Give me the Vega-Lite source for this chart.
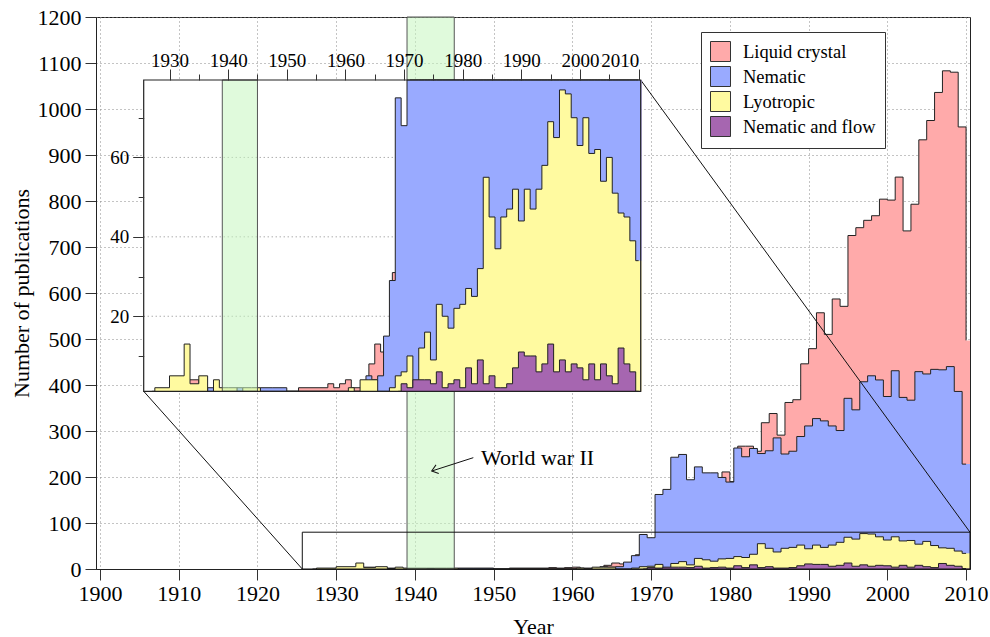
{
  "$schema": "https://vega.github.io/schema/vega-lite/v6.json",
  "width": 874,
  "height": 552,
  "autosize": {"type": "none"},
  "padding": {"left": 96, "top": 17, "right": 20, "bottom": 68},
  "background": "white",
  "view": {"stroke": "#222", "strokeWidth": 1},
  "config": {
    "font": "Liberation Serif",
    "axis": {"labelFont": "Liberation Serif", "titleFont": "Liberation Serif"},
    "legend": {"labelFont": "Liberation Serif"},
    "area": {"opacity": 1}
  },
  "datasets": {
    "liquid": [
      {"year":1933,"n":4},{"year":1935,"n":1},{"year":1937,"n":0},{"year":1952,"n":2},{"year":1957,"n":3},{"year":1958,"n":2},{"year":1959,"n":3},{"year":1960,"n":4},{"year":1961,"n":2},{"year":1963,"n":3},{"year":1964,"n":8},{"year":1965,"n":13},{"year":1966,"n":11},{"year":1967,"n":14},{"year":1968,"n":31},{"year":1969,"n":60},{"year":1970,"n":65},{"year":1971,"n":150},{"year":1972,"n":165},{"year":1973,"n":230},{"year":1974,"n":190},{"year":1975,"n":185},{"year":1976,"n":200},{"year":1977,"n":200},{"year":1978,"n":195},{"year":1979,"n":211},{"year":1980,"n":190},{"year":1981,"n":267},{"year":1982,"n":267},{"year":1983,"n":256},{"year":1984,"n":318},{"year":1985,"n":338},{"year":1986,"n":291},{"year":1987,"n":362},{"year":1988,"n":368},{"year":1989,"n":446},{"year":1990,"n":479},{"year":1991,"n":557},{"year":1992,"n":510},{"year":1993,"n":587},{"year":1994,"n":571},{"year":1995,"n":725},{"year":1996,"n":742},{"year":1997,"n":758},{"year":1998,"n":768},{"year":1999,"n":804},{"year":2000,"n":802},{"year":2001,"n":852},{"year":2002,"n":735},{"year":2003,"n":793},{"year":2004,"n":933},{"year":2005,"n":975},{"year":2006,"n":1036},{"year":2007,"n":1083},{"year":2008,"n":1080},{"year":2009,"n":961},{"year":2010,"n":497}
    ],
    "nematic": [
      {"year":1936,"n":0},{"year":1937,"n":2},{"year":1938,"n":0},{"year":1941,"n":0},{"year":1942,"n":2},{"year":1943,"n":0},{"year":1945,"n":0},{"year":1946,"n":2},{"year":1949,"n":2},{"year":1951,"n":0},{"year":1963,"n":0},{"year":1964,"n":5},{"year":1965,"n":4},{"year":1966,"n":5},{"year":1967,"n":15},{"year":1968,"n":29},{"year":1969,"n":75},{"year":1970,"n":68},{"year":1971,"n":162},{"year":1972,"n":173},{"year":1973,"n":243},{"year":1974,"n":249},{"year":1975,"n":194},{"year":1976,"n":222},{"year":1977,"n":209},{"year":1978,"n":209},{"year":1979,"n":199},{"year":1980,"n":189},{"year":1981,"n":263},{"year":1982,"n":244},{"year":1983,"n":262},{"year":1984,"n":251},{"year":1985,"n":257},{"year":1986,"n":285},{"year":1987,"n":250},{"year":1988,"n":256},{"year":1989,"n":288},{"year":1990,"n":311},{"year":1991,"n":327},{"year":1992,"n":322},{"year":1993,"n":311},{"year":1994,"n":301},{"year":1995,"n":371},{"year":1996,"n":346},{"year":1997,"n":407},{"year":1998,"n":420},{"year":1999,"n":411},{"year":2000,"n":375},{"year":2001,"n":431},{"year":2002,"n":373},{"year":2003,"n":367},{"year":2004,"n":429},{"year":2005,"n":424},{"year":2006,"n":434},{"year":2007,"n":433},{"year":2008,"n":440},{"year":2009,"n":386},{"year":2010,"n":228}
    ],
    "lyotropic": [
      {"year":1927,"n":0},{"year":1928,"n":2},{"year":1932,"n":5},{"year":1933,"n":13},{"year":1934,"n":3},{"year":1936,"n":5},{"year":1937,"n":1},{"year":1938,"n":4},{"year":1939,"n":2},{"year":1941,"n":2},{"year":1942,"n":1},{"year":1943,"n":2},{"year":1945,"n":2},{"year":1946,"n":0},{"year":1960,"n":0},{"year":1961,"n":2},{"year":1962,"n":0},{"year":1963,"n":4},{"year":1965,"n":4},{"year":1966,"n":0},{"year":1967,"n":0},{"year":1968,"n":2},{"year":1969,"n":5},{"year":1970,"n":6},{"year":1971,"n":10},{"year":1972,"n":2},{"year":1973,"n":12},{"year":1974,"n":16},{"year":1975,"n":9},{"year":1976,"n":23},{"year":1977,"n":20},{"year":1978,"n":17},{"year":1979,"n":22},{"year":1980,"n":23},{"year":1981,"n":27},{"year":1982,"n":25},{"year":1983,"n":32},{"year":1984,"n":55},{"year":1985,"n":45},{"year":1986,"n":37},{"year":1987,"n":45},{"year":1988,"n":47},{"year":1989,"n":52},{"year":1990,"n":44},{"year":1991,"n":52},{"year":1992,"n":47},{"year":1993,"n":52},{"year":1994,"n":58},{"year":1995,"n":69},{"year":1996,"n":65},{"year":1997,"n":77},{"year":1998,"n":76},{"year":1999,"n":70},{"year":2000,"n":63},{"year":2001,"n":70},{"year":2002,"n":61},{"year":2003,"n":62},{"year":2004,"n":54},{"year":2005,"n":60},{"year":2006,"n":51},{"year":2007,"n":46},{"year":2008,"n":45},{"year":2009,"n":39},{"year":2010,"n":34}
    ],
    "flow": [
      {"year":1969,"n":0},{"year":1970,"n":3},{"year":1971,"n":2},{"year":1972,"n":4},{"year":1973,"n":4},{"year":1974,"n":4},{"year":1975,"n":3},{"year":1976,"n":6},{"year":1977,"n":2},{"year":1978,"n":3},{"year":1979,"n":4},{"year":1980,"n":2},{"year":1981,"n":7},{"year":1982,"n":3},{"year":1983,"n":9},{"year":1984,"n":3},{"year":1985,"n":5},{"year":1986,"n":2},{"year":1987,"n":2},{"year":1988,"n":3},{"year":1989,"n":7},{"year":1990,"n":11},{"year":1991,"n":10},{"year":1992,"n":10},{"year":1993,"n":6},{"year":1994,"n":8},{"year":1995,"n":13},{"year":1996,"n":6},{"year":1997,"n":9},{"year":1998,"n":6},{"year":1999,"n":8},{"year":2000,"n":7},{"year":2001,"n":4},{"year":2002,"n":8},{"year":2003,"n":4},{"year":2004,"n":8},{"year":2005,"n":5},{"year":2006,"n":3},{"year":2007,"n":12},{"year":2008,"n":8},{"year":2009,"n":6},{"year":2010,"n":1}
    ]
  },
  "resolve": {"scale": {"x": "independent", "y": "independent"}},
  "layer": [
    {
      "layer": [
        {
          "data": {"name": "liquid"},
          "transform": [{"filter": "datum.year === 2010"}],
          "mark": {"type": "bar", "width": 7.874},
          "encoding": {
            "x": {
              "field": "year", "type": "quantitative",
              "scale": {"domain": [1899.5, 2010.5], "nice": false, "zero": false, "padding": 0},
              "axis": {
                "title": "Year",
                "values": [1900,1905,1910,1915,1920,1925,1930,1935,1940,1945,1950,1955,1960,1965,1970,1975,1980,1985,1990,1995,2000,2005,2010],
                "format": "d",
                "labelExpr": "datum.value % 10 === 0 ? datum.label : ''",
                "labelFlush": false, "labelOverlap": false,
                "labelFontSize": 22, "labelColor": "#000", "labelPadding": 3,
                "tickSize": {"condition": {"test": "datum.value % 10 === 0", "value": 11}, "value": 6},
                "tickColor": "#333", "domainColor": "#222",
                "grid": true, "gridColor": "#888", "gridDash": [1, 3],
                "gridOpacity": {"condition": {"test": "datum.value % 10 === 0", "value": 1}, "value": 0},
                "titleFontSize": 22, "titleFontWeight": "normal", "titleColor": "#000", "titlePadding": 12
              }
            },
            "y": {
              "field": "n", "type": "quantitative",
              "scale": {"domain": [0, 1200], "nice": false, "padding": 0},
              "axis": {
                "title": "Number of publications",
                "values": [0,50,100,150,200,250,300,350,400,450,500,550,600,650,700,750,800,850,900,950,1000,1050,1100,1150,1200],
                "labelExpr": "datum.value % 100 === 0 ? datum.label : ''",
                "format": "d",
                "labelOverlap": false, "labelFlush": false,
                "labelFontSize": 22, "labelColor": "#000", "labelPadding": 4,
                "tickSize": {"condition": {"test": "datum.value % 100 === 0", "value": 11}, "value": 6},
                "tickColor": "#333", "domainColor": "#222",
                "grid": true, "gridColor": "#888", "gridDash": [1, 3],
                "gridOpacity": {"condition": {"test": "datum.value % 100 === 0", "value": 1}, "value": 0},
                "titleFontSize": 22, "titleFontWeight": "normal", "titleColor": "#000", "titlePadding": 4
              }
            },
            "y2": {"datum": 0},
            "color": {
              "datum": "Liquid crystal", "type": "nominal",
              "scale": {
                "domain": ["Liquid crystal", "Nematic", "Lyotropic", "Nematic and flow"],
                "range": ["#ffaaaa", "#99aaff", "#fffaa0", "#a666b0"]
              },
              "legend": {
                "title": null, "orient": "none", "legendX": 605, "legendY": 15,
                "symbolType": "square", "symbolSize": 400,
                "labelFont": "Liberation Serif",
                "labelFontSize": 18.5, "labelColor": "#000", "labelOffset": 12,
                "rowPadding": 0, "padding": 9,
                "strokeColor": "#333", "fillColor": "white", "zindex": 1,
                "encode": {
                  "symbols": {"update": {"stroke": {"value": "#333"}, "strokeWidth": {"value": 1}, "opacity": {"value": 1}}},
                  "labels": {"update": {"font": {"value": "Liberation Serif"}}}
                }
              }
            }
          }
        },
        {
          "data": {"name": "liquid"},
          "mark": {"type": "area", "interpolate": "step-after", "color": "#ffaaaa", "opacity": 1, "line": {"color": "#222", "strokeWidth": 1}},
          "encoding": {"x": {"field": "year", "type": "quantitative"}, "y": {"field": "n", "type": "quantitative"}, "y2": {"datum": 0}}
        },
        {
          "data": {"name": "nematic"},
          "transform": [{"filter": "datum.year === 2010"}],
          "mark": {"type": "bar", "width": 7.874},
          "encoding": {"x": {"field": "year", "type": "quantitative"}, "y": {"field": "n", "type": "quantitative"}, "y2": {"datum": 0}, "color": {"datum": "Nematic", "type": "nominal"}}
        },
        {
          "data": {"name": "nematic"},
          "mark": {"type": "area", "interpolate": "step", "color": "#99aaff", "opacity": 1, "line": {"color": "#222", "strokeWidth": 1}},
          "encoding": {"x": {"field": "year", "type": "quantitative"}, "y": {"field": "n", "type": "quantitative"}, "y2": {"datum": 0}}
        },
        {
          "data": {"name": "lyotropic"},
          "transform": [{"filter": "datum.year === 2010"}],
          "mark": {"type": "bar", "width": 7.874},
          "encoding": {"x": {"field": "year", "type": "quantitative"}, "y": {"field": "n", "type": "quantitative"}, "y2": {"datum": 0}, "color": {"datum": "Lyotropic", "type": "nominal"}}
        },
        {
          "data": {"name": "lyotropic"},
          "mark": {"type": "area", "interpolate": "step", "color": "#fffaa0", "opacity": 1, "line": {"color": "#222", "strokeWidth": 1}},
          "encoding": {"x": {"field": "year", "type": "quantitative"}, "y": {"field": "n", "type": "quantitative"}, "y2": {"datum": 0}}
        },
        {
          "data": {"name": "flow"},
          "transform": [{"filter": "datum.year === 2010"}],
          "mark": {"type": "bar", "width": 7.874},
          "encoding": {"x": {"field": "year", "type": "quantitative"}, "y": {"field": "n", "type": "quantitative"}, "y2": {"datum": 0}, "color": {"datum": "Nematic and flow", "type": "nominal"}}
        },
        {
          "data": {"name": "flow"},
          "mark": {"type": "area", "interpolate": "step", "color": "#a666b0", "opacity": 1, "line": {"color": "#222", "strokeWidth": 1}},
          "encoding": {"x": {"field": "year", "type": "quantitative"}, "y": {"field": "n", "type": "quantitative"}, "y2": {"datum": 0}}
        },
        {
          "data": {"values": [{}]},
          "mark": {"type": "rect", "fill": "#c7f6bf", "fillOpacity": 0.55, "stroke": "#555", "strokeWidth": 1},
          "encoding": {"x": {"datum": 1939}, "x2": {"datum": 1945}, "y": {"datum": 0}, "y2": {"datum": 1200}}
        },
        {
          "data": {"values": [{}]},
          "mark": {"type": "rect", "fillOpacity": 0, "stroke": "#111", "strokeWidth": 1},
          "encoding": {"x": {"datum": 1925.7}, "x2": {"datum": 2010.5}, "y": {"datum": 0}, "y2": {"datum": 80}}
        },
        {
          "data": {"values": [{}]},
          "mark": {"type": "rule", "color": "#111", "strokeWidth": 1},
          "encoding": {"x": {"datum": 1905.56}, "y": {"datum": 386.3}, "x2": {"datum": 1925.7}, "y2": {"datum": 0}}
        },
        {
          "data": {"values": [{}]},
          "mark": {"type": "rule", "color": "#111", "strokeWidth": 1},
          "encoding": {"x": {"datum": 1968.68}, "y": {"datum": 1063}, "x2": {"datum": 2010.5}, "y2": {"datum": 80}}
        },
        {
          "data": {"values": [{}]},
          "mark": {"type": "rule", "color": "#111", "strokeWidth": 1},
          "encoding": {"x": {"datum": 1947.42}, "y": {"datum": 242}, "x2": {"datum": 1942.2}, "y2": {"datum": 213.3}}
        },
        {
          "data": {"values": [{}]},
          "mark": {"type": "point", "shape": "M-1,-0.75L0,0L-1,0.75", "size": 144, "angle": 162.3, "filled": false, "color": "#111", "strokeWidth": 1, "opacity": 1},
          "encoding": {"x": {"datum": 1942.13}, "y": {"datum": 213}}
        },
        {
          "data": {"values": [{}]},
          "mark": {"type": "text", "text": "World war II", "align": "left", "baseline": "alphabetic", "fontSize": 22, "font": "Liberation Serif", "color": "#000"},
          "encoding": {"x": {"datum": 1948.4}, "y": {"datum": 226.1}}
        }
      ]
    },
    {
      "layer": [
        {
          "data": {"values": [{}]},
          "mark": {"type": "rect", "color": "white", "opacity": 1},
          "encoding": {
            "x": {
              "datum": 1925.6, "type": "quantitative",
              "scale": {"domain": [1925.6, 2010.35], "range": [47.7, 544.7], "nice": false, "zero": false, "padding": 0},
              "axis": {
                "orient": "top", "offset": -63, "title": null,
                "values": [1930,1935,1940,1945,1950,1955,1960,1965,1970,1975,1980,1985,1990,1995,2000,2005,2010],
                "format": "d",
                "labelExpr": "datum.value % 10 === 0 ? datum.label : ''",
                "labelOverlap": false, "labelFlush": 3,
                "labelFontSize": 19, "labelColor": "#000", "labelPadding": -1,
                "tickSize": {"condition": {"test": "datum.value % 10 === 0", "value": 11}, "value": 6},
                "tickColor": "#333", "domain": false, "grid": false, "zindex": 1
              }
            },
            "x2": {"datum": 2010.35},
            "y": {
              "datum": 1.1, "type": "quantitative",
              "scale": {"domain": [1.1, 79.5], "range": [374.3, 63], "nice": false, "zero": false, "clamp": true, "padding": 0},
              "axis": {
                "orient": "left", "offset": -47.7, "title": null,
                "values": [10, 20, 30, 40, 50, 60, 70],
                "labelExpr": "datum.value % 20 === 0 ? datum.label : ''",
                "labelOverlap": false, "labelFlush": false,
                "labelFontSize": 19, "labelColor": "#000", "labelPadding": 4,
                "tickSize": {"condition": {"test": "datum.value % 20 === 0", "value": 11}, "value": 5.5},
                "tickColor": "#333", "domain": false, "grid": false, "zindex": 1
              }
            },
            "y2": {"datum": 79.5}
          }
        },
        {
          "data": {"values": [{"level": 20}, {"level": 40}, {"level": 60}]},
          "mark": {"type": "rule", "color": "#888", "strokeDash": [1, 3], "strokeWidth": 1},
          "encoding": {"x": {"datum": 1925.6}, "x2": {"datum": 2010.35}, "y": {"field": "level", "type": "quantitative"}}
        },
        {
          "data": {"name": "liquid"},
          "transform": [{"filter": "datum.year === 2010"}],
          "mark": {"type": "bar", "width": 5.864, "color": "#ffaaaa"},
          "encoding": {"x": {"field": "year", "type": "quantitative"}, "y": {"field": "n", "type": "quantitative"}, "y2": {"datum": 0}}
        },
        {
          "data": {"name": "liquid"},
          "mark": {"type": "area", "interpolate": "step-after", "color": "#ffaaaa", "opacity": 1, "line": {"color": "#222", "strokeWidth": 1}},
          "encoding": {"x": {"field": "year", "type": "quantitative"}, "y": {"field": "n", "type": "quantitative"}, "y2": {"datum": 0}}
        },
        {
          "data": {"name": "nematic"},
          "transform": [{"filter": "datum.year === 2010"}],
          "mark": {"type": "bar", "width": 5.864, "color": "#99aaff"},
          "encoding": {"x": {"field": "year", "type": "quantitative"}, "y": {"field": "n", "type": "quantitative"}, "y2": {"datum": 0}}
        },
        {
          "data": {"name": "nematic"},
          "mark": {"type": "area", "interpolate": "step", "color": "#99aaff", "opacity": 1, "line": {"color": "#222", "strokeWidth": 1}},
          "encoding": {"x": {"field": "year", "type": "quantitative"}, "y": {"field": "n", "type": "quantitative"}, "y2": {"datum": 0}}
        },
        {
          "data": {"name": "lyotropic"},
          "transform": [{"filter": "datum.year === 2010"}],
          "mark": {"type": "bar", "width": 5.864, "color": "#fffaa0"},
          "encoding": {"x": {"field": "year", "type": "quantitative"}, "y": {"field": "n", "type": "quantitative"}, "y2": {"datum": 0}}
        },
        {
          "data": {"name": "lyotropic"},
          "mark": {"type": "area", "interpolate": "step", "color": "#fffaa0", "opacity": 1, "line": {"color": "#222", "strokeWidth": 1}},
          "encoding": {"x": {"field": "year", "type": "quantitative"}, "y": {"field": "n", "type": "quantitative"}, "y2": {"datum": 0}}
        },
        {
          "data": {"name": "flow"},
          "transform": [{"filter": "datum.year === 2010"}],
          "mark": {"type": "bar", "width": 5.864, "color": "#a666b0"},
          "encoding": {"x": {"field": "year", "type": "quantitative"}, "y": {"field": "n", "type": "quantitative"}, "y2": {"datum": 0}}
        },
        {
          "data": {"name": "flow"},
          "mark": {"type": "area", "interpolate": "step", "color": "#a666b0", "opacity": 1, "line": {"color": "#222", "strokeWidth": 1}},
          "encoding": {"x": {"field": "year", "type": "quantitative"}, "y": {"field": "n", "type": "quantitative"}, "y2": {"datum": 0}}
        },
        {
          "data": {"values": [{}]},
          "mark": {"type": "rect", "fill": "#c7f6bf", "fillOpacity": 0.55, "stroke": "#555", "strokeWidth": 1},
          "encoding": {"x": {"datum": 1939}, "x2": {"datum": 1945}, "y": {"datum": 1.1}, "y2": {"datum": 79.5}}
        },
        {
          "data": {"values": [{}]},
          "mark": {"type": "rect", "fillOpacity": 0, "stroke": "#222", "strokeWidth": 1.2},
          "encoding": {"x": {"datum": 1925.6}, "x2": {"datum": 2010.35}, "y": {"datum": 1.1}, "y2": {"datum": 79.5}}
        }
      ]
    }
  ]
}
